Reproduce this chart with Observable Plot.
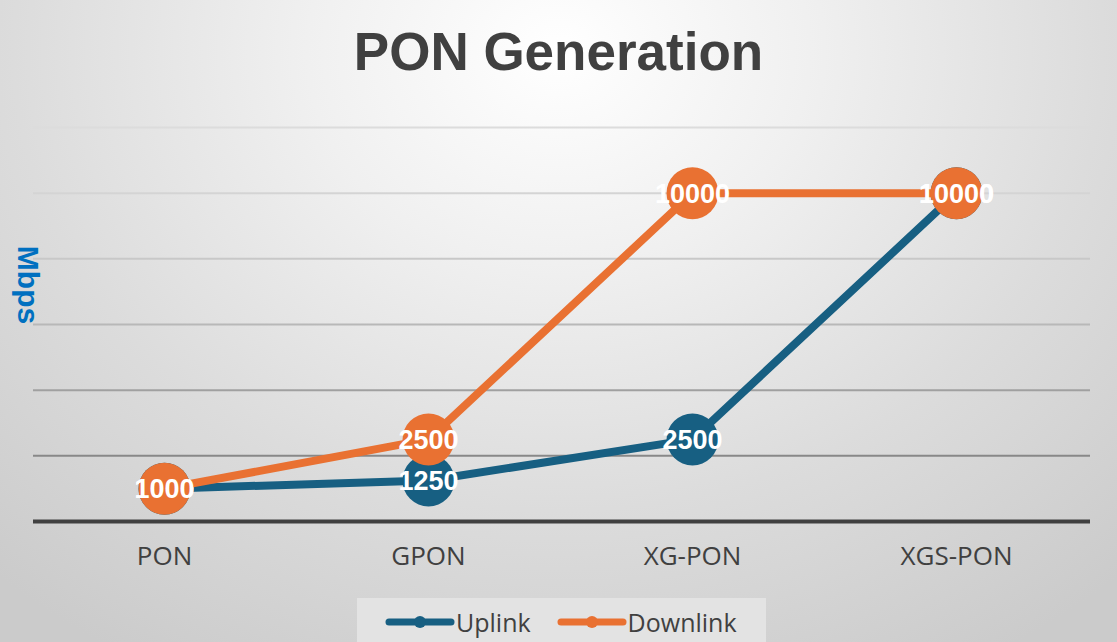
<!DOCTYPE html>
<html>
<head>
<meta charset="utf-8">
<script src="https://cdn.jsdelivr.net/npm/d3@7"></script>
<script src="https://cdn.jsdelivr.net/npm/@observablehq/plot@0.6"></script>
<style>
  html, body { margin: 0; padding: 0; }
  #wrap {
    position: relative; width: 1117px; height: 642px; overflow: hidden;
    background: radial-gradient(ellipse 75% 110% at 50% 8%, #ffffff 0%, #f0f0f0 30%, #dcdcdc 65%, #cbcbcb 100%);
    font-family: "Liberation Sans", Arial, sans-serif;
  }
  #title {
    position: absolute; left: 0; width: 1117px; top: 20px; text-align: center;
    font-size: 53px; font-weight: bold; color: #404040; line-height: 64px;
  }
  #ylabel {
    position: absolute; left: 28px; top: 285px; transform: translate(-50%, -50%) rotate(90deg);
    font-size: 30px; font-weight: bold; color: #0070c0; white-space: nowrap;
  }
  #chart { position: absolute; left: 0; top: 0; }
  #legend {
    position: absolute; left: 357px; top: 598px; width: 409px; height: 60px;
    background: #e3e3e3; display: flex; align-items: flex-start; padding-top: 8px; box-sizing: border-box;
    font-family: "Open Sans", sans-serif; font-size: 25px; color: #404040;
  }
  .item { display: flex; align-items: center; height: 32px; }
  .item svg { display: block; }
</style>
</head>
<body>
<div id="wrap">
  <div id="chart"></div>
  <div id="title">PON Generation</div>
  <div id="ylabel">Mbps</div>
  <div id="legend"></div>
</div>
<script>
const categories = ["PON", "GPON", "XG-PON", "XGS-PON"];
const uplink = [1000, 1250, 2500, 10000];
const downlink = [1000, 2500, 10000, 10000];
const seriesNames = ["Uplink", "Downlink"];
const seriesColors = ["#175f82", "#e97132"];
const gridValues = [2000, 4000, 6000, 8000, 10000, 12000];
const gridColors = ["#888888", "#a0a0a0", "#b8b8b8", "#c8c8c8", "#d4d4d4", "#dcdcdc"];

const up = categories.map((c, i) => ({cat: c, value: uplink[i]}));
const down = categories.map((c, i) => ({cat: c, value: downlink[i]}));

const labelFont = "'Liberation Sans', Arial, sans-serif";

function seriesMarks(data, color) {
  return [
    Plot.line(data, {x: "cat", y: "value", stroke: color, strokeWidth: 8, strokeLinejoin: "round"}),
    Plot.dot(data, {x: "cat", y: "value", r: 26, fill: color, stroke: "none"}),
    Plot.text(data, {x: "cat", y: "value", text: d => String(d.value), fill: "white",
      fontSize: 27, fontWeight: "bold", fontFamily: labelFont, dy: 1})
  ];
}

const chart = Plot.plot({
  width: 1117,
  height: 590,
  marginTop: 127,
  marginBottom: 69,
  marginLeft: 31,
  marginRight: 29,
  style: {background: "transparent", overflow: "visible"},
  x: {type: "point", domain: categories, padding: 0.5},
  y: {domain: [0, 12000], axis: null},
  marks: [
    ...gridValues.map((v, i) => Plot.ruleY([v], {stroke: gridColors[i], strokeWidth: 2, dx: 2})),
    Plot.ruleY([0], {stroke: "#404040", strokeWidth: 4, dx: 2}),
    Plot.axisX({tickSize: 0, tickPadding: 25, fontSize: 26, fill: "#404040",
      fontFamily: "'Open Sans', sans-serif", label: null}),
    ...seriesMarks(up, seriesColors[0]),
    ...seriesMarks(down, seriesColors[1])
  ]
});
document.getElementById("chart").appendChild(chart);

const legend = document.getElementById("legend");
const offsets = [28, 26];
seriesNames.forEach((name, i) => {
  const item = document.createElement("div");
  item.className = "item";
  item.style.marginLeft = offsets[i] + "px";
  item.innerHTML = `<svg width="70" height="20"><line x1="4" y1="10" x2="66" y2="10" stroke="${seriesColors[i]}" stroke-width="7" stroke-linecap="round"/><circle cx="35" cy="10" r="6" fill="${seriesColors[i]}"/></svg><span style="margin-left:1px">${name}</span>`;
  legend.appendChild(item);
});
</script>
</body>
</html>
